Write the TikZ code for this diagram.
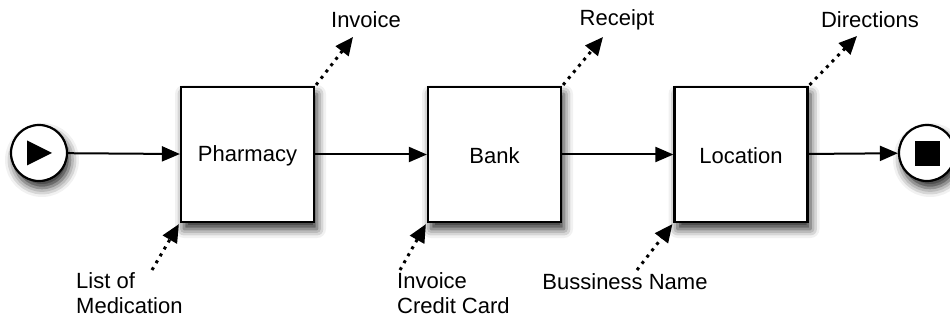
\documentclass[tikz,border=0pt]{standalone}
\usepackage{fontspec}
\setmainfont{Liberation Sans}
\usetikzlibrary{arrows.meta,shadows.blur}

\tikzset{
  softshadow/.style={blur shadow={shadow xshift=3pt, shadow yshift=-7pt,
      shadow blur radius=9pt, shadow opacity=85}},
  task/.style={draw=black, line width=2.2pt, fill=white, minimum width=133pt,
      minimum height=135pt, inner sep=0pt, softshadow},
  event/.style={circle, draw=black, line width=2.2pt, fill=white,
      minimum size=56pt, inner sep=0pt, softshadow},
  flow/.style={line width=2pt, -{Triangle[length=18pt,width=15pt]}},
  assoc/.style={line width=3pt, dash pattern=on 3pt off 5pt,
      -{Triangle[length=18pt,width=16pt]}},
  lbl/.style={font=\fontsize{22}{25}\selectfont, inner sep=0pt, align=left},
}

\begin{document}
\begin{tikzpicture}[x=1pt, y=-1pt]
  \useasboundingbox (0,0) rectangle (950,323);

  % start and end events
  \node[event] (start) at (39,153) {};
  \fill (27,140.5) -- (52,153) -- (27,165.5) -- cycle;
  \node[event] (stop) at (927,153) {};
  \fill (915,141) rectangle (940,166);

  % tasks
  \node[task] (pharm) at (247.5,154.5) {};
  \node[task] (bank)  at (494.5,154.5) {};
  \node[task] (loc)   at (741,154.5) {};
  \node[lbl] at ([yshift=-1pt]pharm.center) {Pharmacy};
  \node[lbl] at ([yshift=-1pt]bank.center)  {Bank};
  \node[lbl] at ([yshift=-1pt]loc.center)   {Location};

  % sequence flow
  \draw[flow] (start) -- (pharm);
  \draw[flow] (pharm) -- (bank);
  \draw[flow] (bank) -- (loc);
  \draw[flow] (loc) -- (stop);

  % outputs
  \node[lbl] (inv)  at (366,20) {Invoice};
  \node[lbl] (rec)  at (617,20) {Receipt};
  \node[lbl] (dir)  at (870,20) {Directions};
  \coordinate (invtip) at (353,37);
  \coordinate (rectip) at (603,37);
  \coordinate (dirtip) at (857,36);
  \draw[assoc] ([xshift=1pt,yshift=1pt]pharm.north east) -- (invtip);
  \draw[assoc] ([xshift=1pt,yshift=1pt]bank.north east) -- (rectip);
  \draw[assoc] ([xshift=1pt,yshift=1pt]loc.north east) -- (dirtip);

  % inputs
  \node[lbl, anchor=north west] (med) at (76,272) {List of\\Medication};
  \node[lbl, anchor=north west] (card) at (397,272) {Invoice\\Credit Card};
  \node[lbl] (biz) at (625,282) {Bussiness Name};
  \coordinate (medtail) at (152,270);
  \coordinate (cardtail) at (400,270);
  \coordinate (biztail) at (637,270);
  \draw[assoc] (medtail) -- ([xshift=-1pt,yshift=-1pt]pharm.south west);
  \draw[assoc] (cardtail) -- ([xshift=-1pt,yshift=-1pt]bank.south west);
  \draw[assoc] (biztail) -- ([xshift=-1pt,yshift=-1pt]loc.south west);
\end{tikzpicture}
\end{document}
